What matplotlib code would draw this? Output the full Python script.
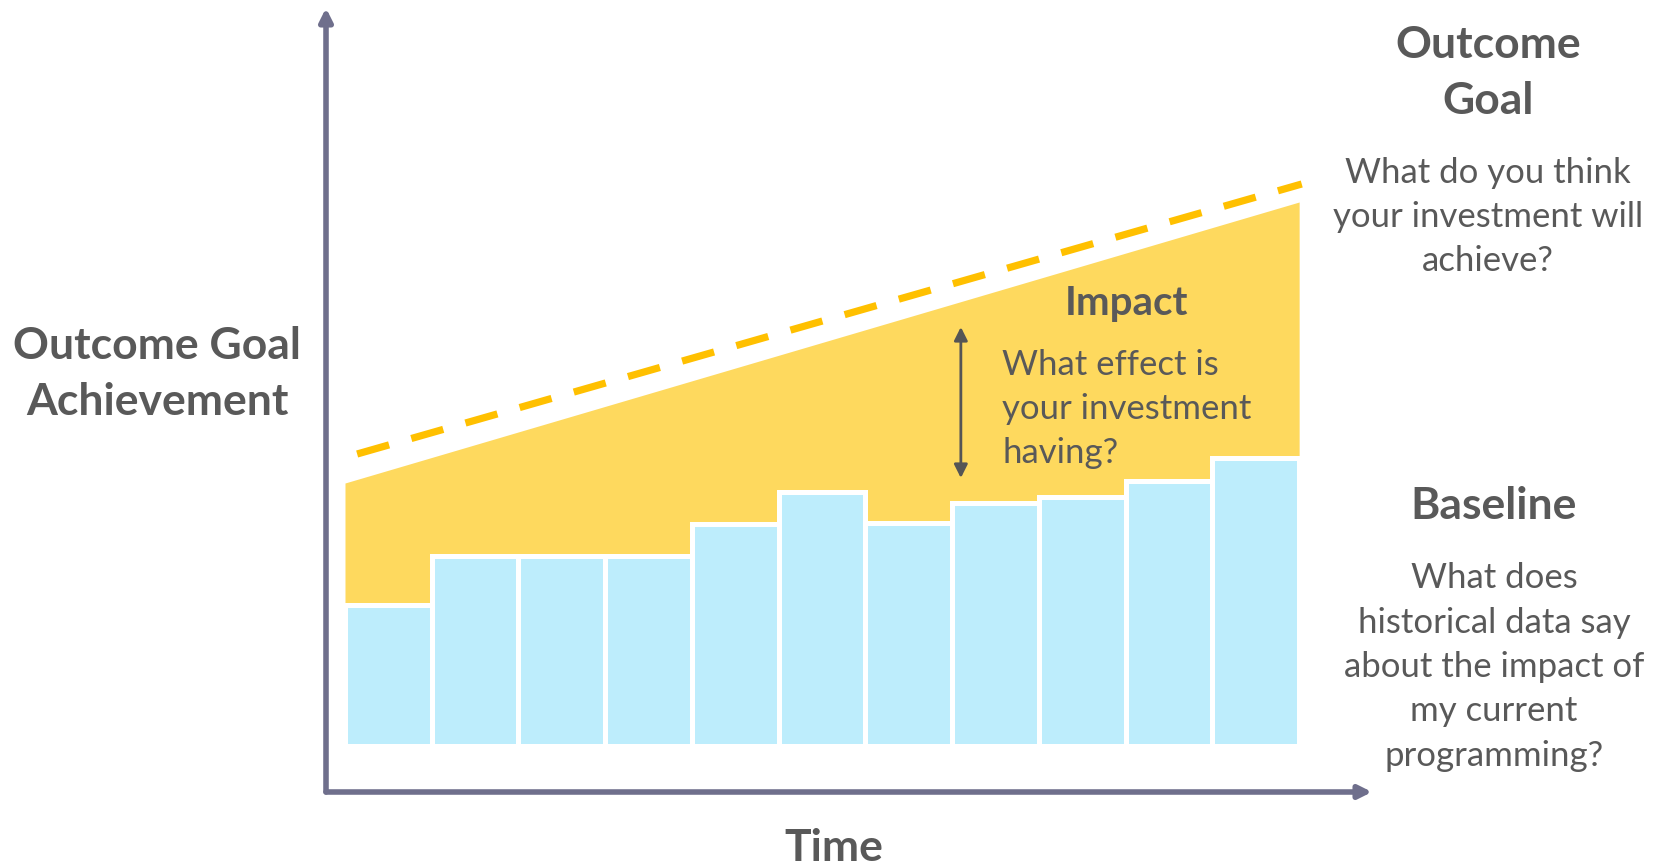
import matplotlib
matplotlib.use('Agg')
import matplotlib.pyplot as plt
import numpy as np

# ─── Data ────────────────────────────────────────────────────────────────────
periods   = np.arange(11)                       # time periods (bar slots)
baseline  = [14.1, 19.0, 19.0, 19.0, 22.2, 25.4, 22.3, 24.3, 24.9, 26.5, 28.8]
impact_x  = [0, 11]                             # span of the impact band
impact_top = [26.3, 54.4]                       # upper edge of the impact band
goal_x    = [0.14, 11.03]                       # dashed outcome-goal line
goal_y    = [29.2, 56.2]
arrow_x   = 7.1                                 # impact double arrow
arrow_y   = [26.8, 41.9]

# ─── Style ───────────────────────────────────────────────────────────────────
W, H = 1661, 866
DARK   = "#595959"
AXIS   = "#6F6F8C"
YELLOW = "#FED95E"
GOLD   = "#FFC000"
BLUE   = "#BDEDFC"
plt.rcParams["font.family"] = ["Lato", "DejaVu Sans"]

fig = plt.figure(figsize=(W / 100, H / 100), dpi=100)
fig.patch.set_facecolor("white")

# axes box runs from the axis corner to the arrow tips (pixels of the reference)
ax = fig.add_axes([326 / W, 1 - 792 / H, (1372 - 326) / W, (792 - 8) / H])
ax.set_xlim(-0.219, 11.84)
ax.set_ylim(-4.6, 73.8)
ax.axis("off")

# impact band, baseline bars on top
ax.fill_between(impact_x, 0, impact_top, color=YELLOW, lw=0, zorder=1)
ax.bar(periods + 0.5, baseline, width=1.0, color=BLUE,
       edgecolor="white", linewidth=3.6, zorder=2)

# outcome goal dashed line
ax.plot(goal_x, goal_y, color=GOLD, lw=5.2, dashes=(4.6, 3.2),
        solid_capstyle="butt", zorder=3)

# impact double arrow
ax.annotate("", xy=(arrow_x, arrow_y[1]), xytext=(arrow_x, arrow_y[0]),
            arrowprops=dict(arrowstyle="<|-|>", color="#555555", lw=2,
                            mutation_scale=20, shrinkA=0, shrinkB=0),
            zorder=4)

# axes arrows
for end in [(0, 1), (1, 0)]:
    ax.annotate("", xy=end, xytext=(0, 0), xycoords="axes fraction",
                textcoords="axes fraction",
                arrowprops=dict(arrowstyle="-|>", color=AXIS, lw=4,
                                mutation_scale=19, shrinkA=0, shrinkB=0),
                annotation_clip=False)

# ─── Text ────────────────────────────────────────────────────────────────────
def label(x, y, s, size, bold=False, ha="center", ls=1.2):
    fig.text(x / W, 1 - y / H, s, fontsize=size, color=DARK, ha=ha, va="center",
             fontweight="bold" if bold else "normal", linespacing=ls)

label(157, 374, "Outcome Goal\nAchievement", 32, bold=True, ls=1.5)
label(834, 848, "Time", 32, bold=True)
label(1488, 73, "Outcome\nGoal", 32, bold=True, ls=1.5)
label(1488, 217, "What do you think\nyour investment will\nachieve?", 25, ls=1.48)
label(1126, 303, "Impact", 29, bold=True)
label(1002, 409, "What effect is\nyour investment\nhaving?", 25, ha="left", ls=1.48)
label(1494, 667, "What does\nhistorical data say\nabout the impact of\nmy current\nprogramming?",
      25, ls=1.48)
label(1494, 506, "Baseline", 32, bold=True)

plt.savefig("out.png", dpi=100)
plt.close()
